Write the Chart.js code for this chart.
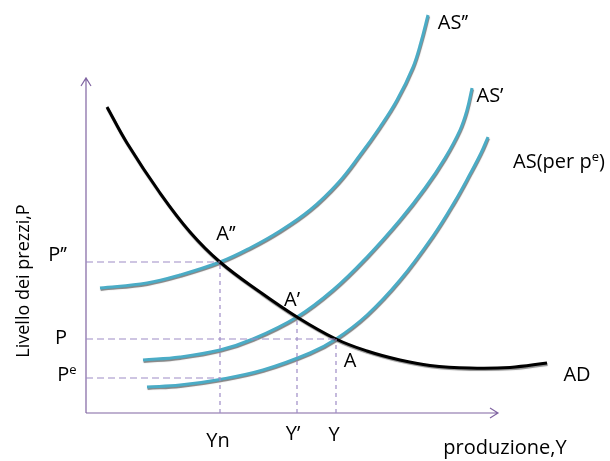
<!DOCTYPE html>
<html><head><meta charset="utf-8">
<script src="https://cdn.jsdelivr.net/npm/chart.js@4.4.0/dist/chart.umd.min.js"></script>
<style>html,body{margin:0;padding:0;background:#fff;}#wrap{width:610px;height:461px;}</style>
</head><body><div id="wrap"><canvas id="c" width="610" height="461"></canvas></div>
<script>
// ---- data (output Y on x, price level P on y) ----
const adX  = [4.2, 8.2, 14.8, 20.8, 26.8, 34.8, 42.2, 50, 56.2, 62.8, 68.8, 76.8, 84.8, 92.2];
const adY  = [76.5, 67.5, 55, 45.25, 37.75, 30.25, 24, 18.5, 15.5, 13.25, 11.9, 11.25, 11.4, 12.5];
const asX  = [12.2, 18.8, 26.8, 35.4, 44.8, 50, 56.2, 62.8, 69.4, 73.8, 76.8, 79, 80.4];
const asY  = [6.5, 7, 8.4, 10.75, 15, 18.5, 24.5, 33.25, 44.25, 53, 59.75, 65, 69];
const as1X = [11.4, 18.8, 26.8, 33.4, 42.2, 49.4, 56.2, 62.8, 67.8, 71.8, 74.8, 76.2, 77.2];
const as1Y = [13.25, 14, 15.75, 18.5, 24, 30.75, 39, 48.25, 56.25, 63.75, 70.75, 75.75, 81.25];
const as2X = [2.8, 12.2, 18.8, 26.8, 32.8, 38.8, 44.8, 50.4, 54.8, 58.8, 62.2, 65.4, 67, 68.4];
const as2Y = [31.25, 32.5, 34.5, 37.75, 41.25, 45.5, 50.75, 57.5, 64.5, 71.5, 78.25, 86.5, 92.75, 99.5];

const outputTickLabels = ["Yn", "Y\u2019", "Y"];
const outputTickValues = [26.8, 42.2, 50];
const priceTickLabels  = ["P\u2019\u2019", "P", "P^e"];
const priceTickValues  = [37.75, 18.5, 8.75];
// guide lines: horizontal (price level -> output where it ends), vertical (output -> price where it ends)
const hGuideY   = [37.75, 18.5, 8.75];
const hGuideEnd = [26.8, 50, 26.8];
const vGuideX   = [26.8, 42.2, 50];
const vGuideTop = [37.75, 24, 18.5];
const axisTop = 83.75, axisRight = 82.4;

// text labels (data coordinates)
const curveLabels = [
  {t:"A\u2019\u2019", x:28, y:44.75}, {t:"A\u2019", x:41.2, y:28.25}, {t:"A", x:52.8, y:13},
  {t:"AD", x:98.2, y:9.5}, {t:"AS\u2019\u2019", x:73.4, y:97.5}, {t:"AS\u2019", x:80.8, y:79.25},
  {t:"AS(per p^e)", x:94.6, y:62.75}, {t:"produzione,Y", x:83.8, y:-8.75}
];
const tickLabelPos = {price:{x:-3.8, dy:[1.8, 0.1, 0.8], align:['right','right','center']}, output:{y:[-7, -5.25, -5.5], dx:[-0.4, -0.8, -0.4]}};
const yTitle = "Livello dei prezzi,P";

const pts = (xs, ys) => xs.map((x, i) => ({x, y: ys[i]}));
const TEAL = '#4BACC6', GUIDE = '#9E8CC6', AXIS = '#8064A2';
const FONT = '20px "Open Sans"', SUPFONT = '13px "Open Sans"', TITLEFONT = '18px "Open Sans"';

const datasets = [];
hGuideY.forEach((y, i) => datasets.push({data:[{x:0,y},{x:hGuideEnd[i],y}], borderColor:GUIDE, borderWidth:1.2, borderDash:[7,4], guide:true}));
vGuideX.forEach((x, i) => datasets.push({data:[{x,y:0},{x,y:vGuideTop[i]}], borderColor:GUIDE, borderWidth:1.2, borderDash:[4,4], guide:true}));
datasets.push({data:pts(adX, adY), borderColor:'#000', borderWidth:3, shadow:'rgba(100,100,100,0.7)'});
datasets.push({data:pts(asX, asY), borderColor:TEAL, borderWidth:3, shadow:'rgba(80,80,80,0.7)'});
datasets.push({data:pts(as1X, as1Y), borderColor:TEAL, borderWidth:3, shadow:'rgba(80,80,80,0.7)'});
datasets.push({data:pts(as2X, as2Y), borderColor:TEAL, borderWidth:3, shadow:'rgba(80,80,80,0.7)'});
datasets.forEach(d => { d.pointRadius = 0; d.fill = false; d.clip = false; d.tension = d.guide ? 0 : 0.4; });

function drawRich(ctx, text, x, y, align) {
  const parts = [];
  const re = /\^(\w)/g; let last = 0, m;
  while ((m = re.exec(text))) { if (m.index > last) parts.push({t:text.slice(last, m.index)}); parts.push({t:m[1], sup:true}); last = re.lastIndex; }
  if (last < text.length) parts.push({t:text.slice(last)});
  let w = 0;
  parts.forEach(p => { ctx.font = p.sup ? SUPFONT : FONT; p.w = ctx.measureText(p.t).width; w += p.w; });
  let cx = align === 'right' ? x - w : align === 'left' ? x : x - w / 2;
  ctx.textAlign = 'left'; ctx.textBaseline = 'middle';
  parts.forEach(p => { ctx.font = p.sup ? SUPFONT : FONT; ctx.fillText(p.t, cx, p.sup ? y - 5 : y); cx += p.w; });
}

const deco = {
  id: 'deco',
  beforeDatasetDraw(chart, args) {
    const ds = chart.data.datasets[args.index];
    const ctx = chart.ctx; ctx.save();
    if (ds.shadow) { ctx.shadowColor = ds.shadow; ctx.shadowOffsetX = 0.6; ctx.shadowOffsetY = 1.4; ctx.shadowBlur = 0.8; }
  },
  afterDatasetDraw(chart) { chart.ctx.restore(); },
  beforeDatasetsDraw(chart) {
    const {ctx, scales:{x, y}} = chart;
    const x0 = x.getPixelForValue(0), y0 = y.getPixelForValue(0);
    const yt = y.getPixelForValue(axisTop), xr = x.getPixelForValue(axisRight);
    ctx.save(); ctx.strokeStyle = AXIS; ctx.lineWidth = 1.2;
    ctx.beginPath(); ctx.moveTo(x0, y0); ctx.lineTo(x0, yt); ctx.moveTo(x0, y0); ctx.lineTo(xr, y0);
    ctx.moveTo(x0 - 5, yt + 8); ctx.lineTo(x0, yt); ctx.lineTo(x0 + 5, yt + 8);
    ctx.moveTo(xr - 8, y0 - 5); ctx.lineTo(xr, y0); ctx.lineTo(xr - 8, y0 + 5);
    ctx.stroke(); ctx.restore();
  },
  afterDraw(chart) {
    const {ctx, scales:{x, y}} = chart;
    ctx.save(); ctx.fillStyle = '#000';
    curveLabels.forEach(l => drawRich(ctx, l.t, x.getPixelForValue(l.x), y.getPixelForValue(l.y), 'center'));
    priceTickLabels.forEach((t, i) => drawRich(ctx, t, x.getPixelForValue(tickLabelPos.price.x), y.getPixelForValue(priceTickValues[i] + tickLabelPos.price.dy[i]), tickLabelPos.price.align[i]));
    outputTickLabels.forEach((t, i) => drawRich(ctx, t, x.getPixelForValue(outputTickValues[i] + tickLabelPos.output.dx[i]), y.getPixelForValue(tickLabelPos.output.y[i]), 'center'));
    ctx.translate(24, 281); ctx.rotate(-Math.PI / 2);
    ctx.font = TITLEFONT; ctx.textAlign = 'center'; ctx.textBaseline = 'middle';
    ctx.fillText(yTitle, 0, 0);
    ctx.restore();
  }
};

new Chart(document.getElementById('c'), {
  type: 'line',
  data: {datasets},
  options: {
    responsive: false, animation: false, parsing: false,
    layout: {padding: {left: 86, right: 9, top: 13, bottom: 48}},
    scales: {x: {type: 'linear', min: 0, max: 103, display: false}, y: {type: 'linear', min: 0, max: 100, display: false}},
    plugins: {legend: {display: false}, tooltip: {enabled: false}}
  },
  plugins: [deco]
});
</script></body></html>
